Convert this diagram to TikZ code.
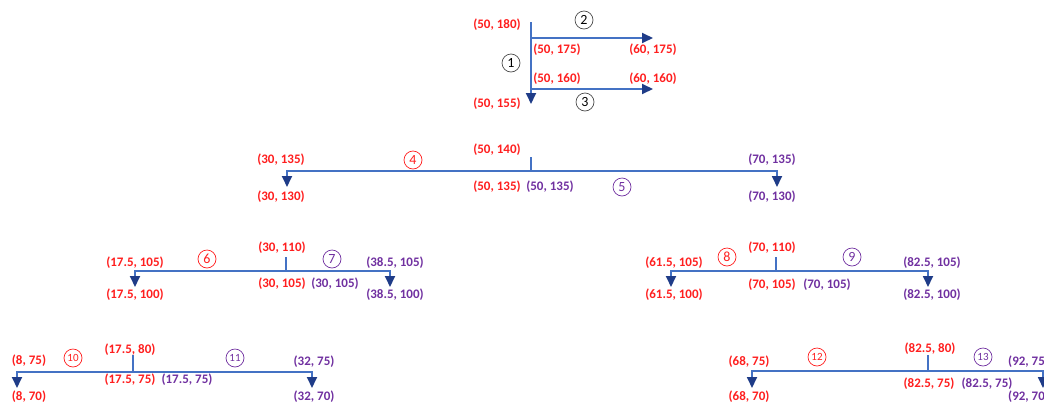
\documentclass[tikz,border=0pt]{standalone}
\usepackage{fontspec}
\setmainfont{Carlito}
\usetikzlibrary{arrows.meta}
\definecolor{lineblue}{HTML}{4472C4}
\definecolor{tipblue}{HTML}{1F3C88}
\definecolor{ptred}{HTML}{FF1E1E}
\definecolor{ptpurple}{HTML}{7030A0}
\tikzset{
    flow/.style={lineblue,line width=1.8pt},
    flowarrow/.style={flow,-{Triangle[width=10pt,length=11pt,color=tipblue]}},
    redlbl/.style={text=ptred,inner sep=0pt,font=\bfseries\fontsize{13}{15}\selectfont},
    purplbl/.style={redlbl,text=ptpurple},
    stepno/.style={circle,draw,line width=0.7pt,minimum size=18pt,inner sep=0pt,
        font=\fontsize{14}{16}\selectfont},
    stepnum/.style={stepno,font=\fontsize{11}{13}\selectfont}
}
\begin{document}
\begin{tikzpicture}[x=1pt,y=-1pt]
    \useasboundingbox (0,0) rectangle (1044,405);
    \clip (0,0) rectangle (1044,405);

    %% Split 1-3
    \coordinate (s1) at (531,22);
    \coordinate (s1a) at (531,38);
    \coordinate (s1b) at (531,89);
    \coordinate (s1end) at (531,104);
    \coordinate (s2end) at (653,38);
    \coordinate (s3end) at (653,89);
    \draw[flowarrow] (s1) -- (s1end);
    \draw[flowarrow] (s1a) -- (s2end);
    \draw[flowarrow] (s1b) -- (s3end);
    \node[redlbl] at (497,25) {(50, 180)};
    \node[redlbl] at (497,104) {(50, 155)};
    \node[redlbl] at (557,50) {(50, 175)};
    \node[redlbl] at (653,50) {(60, 175)};
    \node[redlbl] at (557,79) {(50, 160)};
    \node[redlbl] at (653,79) {(60, 160)};
    \node[stepno,draw=black!70] (n1) at (511,63) {1};
    \node[stepno,draw=black!70] (n2) at (584,20) {2};
    \node[stepno,draw=black!70] (n3) at (585,102) {3};

    %% Split 4-5
    \coordinate (t45) at (531,157);
    \coordinate (j45) at (531,171);
    \coordinate (l4) at (287,171);
    \coordinate (e4) at (287,187);
    \coordinate (r5) at (777,171);
    \coordinate (e5) at (777,187);
    \draw[flow] (t45) -- (j45);
    \draw[flowarrow] (j45) -- (l4) -- (e4);
    \draw[flowarrow] (j45) -- (r5) -- (e5);
    \node[redlbl] at (281,160) {(30, 135)};
    \node[redlbl] at (281,197) {(30, 130)};
    \node[redlbl] at (497,150) {(50, 140)};
    \node[redlbl] at (497,187) {(50, 135)};
    \node[purplbl] at (550,187) {(50, 135)};
    \node[purplbl] at (772,160) {(70, 135)};
    \node[purplbl] at (772,197) {(70, 130)};
    \node[stepno,draw=ptred,text=ptred] (n4) at (413,160) {4};
    \node[stepno,draw=ptpurple,text=ptpurple] (n5) at (622,187) {5};

    %% Split 6-7
    \coordinate (t67) at (286,257);
    \coordinate (j67) at (286,271);
    \coordinate (l6) at (135,271);
    \coordinate (e6) at (135,287);
    \coordinate (r7) at (390,271);
    \coordinate (e7) at (390,287);
    \draw[flow] (t67) -- (j67);
    \draw[flowarrow] (j67) -- (l6) -- (e6);
    \draw[flowarrow] (j67) -- (r7) -- (e7);
    \node[redlbl] at (135,263) {(17.5, 105)};
    \node[redlbl] at (135,295) {(17.5, 100)};
    \node[redlbl] at (282,248) {(30, 110)};
    \node[redlbl] at (282,284) {(30, 105)};
    \node[purplbl] at (335,284) {(30, 105)};
    \node[purplbl] at (395,263) {(38.5, 105)};
    \node[purplbl] at (395,295) {(38.5, 100)};
    \node[stepno,draw=ptred,text=ptred] (n6) at (207,259) {6};
    \node[stepno,draw=ptpurple,text=ptpurple] (n7) at (332,259) {7};

    %% Split 8-9
    \coordinate (t89) at (776,257);
    \coordinate (j89) at (776,271);
    \coordinate (l8) at (671,271);
    \coordinate (e8) at (671,287);
    \coordinate (r9) at (928,271);
    \coordinate (e9) at (928,287);
    \draw[flow] (t89) -- (j89);
    \draw[flowarrow] (j89) -- (l8) -- (e8);
    \draw[flowarrow] (j89) -- (r9) -- (e9);
    \node[redlbl] at (674,263) {(61.5, 105)};
    \node[redlbl] at (674,295) {(61.5, 100)};
    \node[redlbl] at (772,248) {(70, 110)};
    \node[redlbl] at (772,285) {(70, 105)};
    \node[purplbl] at (827,285) {(70, 105)};
    \node[purplbl] at (932,263) {(82.5, 105)};
    \node[purplbl] at (932,295) {(82.5, 100)};
    \node[stepno,draw=ptred,text=ptred] (n8) at (727,257) {8};
    \node[stepno,draw=ptpurple,text=ptpurple] (n9) at (852,257) {9};

    %% Split 10-11
    \coordinate (t1011) at (133,355);
    \coordinate (j1011) at (133,372);
    \coordinate (l10) at (17,372);
    \coordinate (e10) at (17,388);
    \coordinate (r11) at (312,372);
    \coordinate (e11) at (312,388);
    \draw[flow] (t1011) -- (j1011);
    \draw[flowarrow] (j1011) -- (l10) -- (e10);
    \draw[flowarrow] (j1011) -- (r11) -- (e11);
    \node[redlbl] at (29,361) {(8, 75)};
    \node[redlbl] at (29,397) {(8, 70)};
    \node[redlbl] at (130,350) {(17.5, 80)};
    \node[redlbl] at (130,380) {(17.5, 75)};
    \node[purplbl] at (187,380) {(17.5, 75)};
    \node[purplbl] at (314,362) {(32, 75)};
    \node[purplbl] at (314,397) {(32, 70)};
    \node[stepnum,draw=ptred,text=ptred] (n10) at (73,358) {10};
    \node[stepnum,draw=ptpurple,text=ptpurple] (n11) at (235,358) {11};

    %% Split 12-13
    \coordinate (t1213) at (928,355);
    \coordinate (j1213) at (928,371);
    \coordinate (l12) at (752,371);
    \coordinate (e12) at (752,388);
    \coordinate (r13) at (1043,371);
    \coordinate (e13) at (1043,388);
    \draw[flow] (t1213) -- (j1213);
    \draw[flowarrow] (j1213) -- (l12) -- (e12);
    \draw[flowarrow] (j1213) -- (r13) -- (e13);
    \node[redlbl] at (749,362) {(68, 75)};
    \node[redlbl] at (749,397) {(68, 70)};
    \node[redlbl] at (930,349) {(82.5, 80)};
    \node[redlbl] at (929,384) {(82.5, 75)};
    \node[purplbl] at (987,384) {(82.5, 75)};
    \node[purplbl,anchor=west] at (1008,362) {(92, 75)};
    \node[purplbl,anchor=west] at (1008,397) {(92, 70)};
    \node[stepnum,draw=ptred,text=ptred] (n12) at (817,357) {12};
    \node[stepnum,draw=ptpurple,text=ptpurple] (n13) at (983,357) {13};
\end{tikzpicture}
\end{document}
